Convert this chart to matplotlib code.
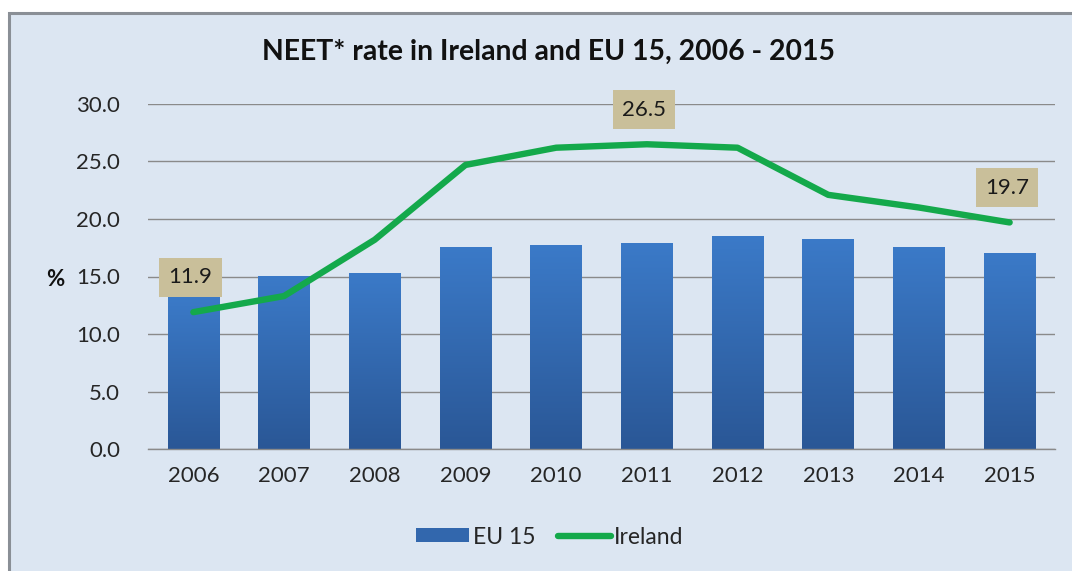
import matplotlib
matplotlib.use("Agg")
import matplotlib.pyplot as plt
from matplotlib.patches import Rectangle
from matplotlib.lines import Line2D
from matplotlib.colors import LinearSegmentedColormap
import numpy as np

years = ["2006", "2007", "2008", "2009", "2010", "2011", "2012", "2013", "2014", "2015"]
eu15 = [13.2, 15.0, 15.3, 17.6, 17.7, 17.9, 18.5, 18.3, 17.6, 17.0]
ireland = [11.9, 13.3, 18.2, 24.7, 26.2, 26.5, 26.2, 22.1, 21.0, 19.7]
labelled = {0: "11.9", 5: "26.5", 9: "19.7"}
yticks = [0, 5, 10, 15, 20, 25, 30]

plt.rcParams['font.family'] = ['Lato', 'DejaVu Sans']

W, H = 1072, 571
fig = plt.figure(figsize=(W / 100, H / 100), dpi=100, facecolor="white")

# chart area background with border
bg = Rectangle((9 / W, -0.05), 1.2, 1 - 13 / H + 0.05, transform=fig.transFigure,
               facecolor="#dce6f2", edgecolor="#8a8f96", linewidth=2.2, zorder=-10)
fig.patches.append(bg)

ax = fig.add_axes([148 / W, 1 - 449 / H, (1055 - 148) / W, (449 - 104) / H])
ax.set_facecolor("none")
x = np.arange(len(years))

bars = ax.bar(x, eu15, width=0.57, color="#3670b8", zorder=2, linewidth=0)
cmap = LinearSegmentedColormap.from_list("g", ["#2a5796", "#3b7ac8"])
grad = np.linspace(0, 1, 256).reshape(-1, 1)
for b in bars:
    x0, w, h = b.get_x(), b.get_width(), b.get_height()
    im = ax.imshow(grad, extent=(x0, x0 + w, 0, h), origin="lower", cmap=cmap,
                   aspect="auto", zorder=2.1)
    im.set_clip_path(b)

ax.plot(x, ireland, color="#14a94b", linewidth=4.6, solid_joinstyle="round",
        solid_capstyle="round", zorder=3)

for i, t in labelled.items():
    ax.annotate(t, (x[i], ireland[i]), xytext=(-2, 25), textcoords="offset points",
                ha="center", va="center", fontsize=16, color="#1a1a1a", zorder=4,
                bbox=dict(boxstyle="square,pad=0.42", facecolor="#c9bf9a", edgecolor="none"))

ax.set_xlim(-0.5, len(years) - 0.5)
ax.set_ylim(0, 30)
ax.set_yticks(yticks)
ax.set_yticklabels([f"{v:.1f}" for v in yticks])
ax.set_xticks(x)
ax.set_xticklabels(years)
ax.yaxis.grid(True, color="#8a8a8a", linewidth=1.0, zorder=1)
ax.set_axisbelow(True)
for s in ["left", "right", "top"]:
    ax.spines[s].set_visible(False)
ax.spines["bottom"].set_color("#8a8a8a")
ax.spines["bottom"].set_linewidth(1.0)
ax.tick_params(axis="both", length=0, labelsize=16, labelcolor="#262626")
ax.tick_params(axis="y", pad=20)
ax.tick_params(axis="x", pad=12)

fig.text(549 / W, 1 - 52 / H, "NEET* rate in Ireland and EU 15, 2006 - 2015",
         ha="center", va="center", fontsize=20.4, fontweight="bold", color="#111111")
fig.text(55 / W, 1 - 279 / H, "%", ha="center", va="center", fontsize=16,
         fontweight="bold", color="#111111")

handles = [Rectangle((0, 0), 1, 1, facecolor="#3267ad", edgecolor="none"),
           Line2D([0], [0], color="#14a94b", linewidth=4.6, solid_capstyle="round")]
fig.legend(handles, ["EU 15", "Ireland"], loc="center", bbox_to_anchor=(550 / W, 1 - 537 / H),
           ncol=2, frameon=False, fontsize=16.5, handlelength=2.3, handleheight=0.55,
           handletextpad=0.15, columnspacing=1.0, labelcolor="#262626")

fig.savefig("out.png", dpi=100, facecolor="white")
